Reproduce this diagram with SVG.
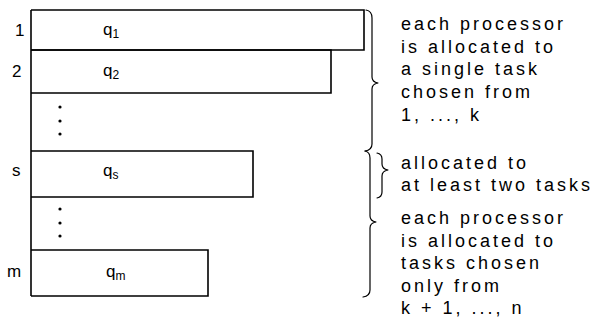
<svg xmlns="http://www.w3.org/2000/svg" width="598" height="323" viewBox="0 0 598 323">
  <style>
    .bar { fill: none; stroke: #000; stroke-width: 1.6; }
    .brace { fill: none; stroke: #000; stroke-width: 1.2; stroke-linecap: round; stroke-linejoin: round; }
    .idx { font-family: "Liberation Sans", "DejaVu Sans", sans-serif; font-size: 17px; fill: #000; }
    .q { font-family: "Liberation Sans", "DejaVu Sans", sans-serif; font-size: 17px; fill: #000; }
    .sub { font-size: 12px; }
    .note { font-family: "Liberation Sans", "DejaVu Sans", sans-serif; font-size: 18px; letter-spacing: 3px; fill: #000; }
    .dot { fill: #000; }
  </style>
  <rect width="598" height="323" fill="#fff"/>

  <!-- processors drawn as bars along a shared left edge -->
  <line class="bar" x1="31" y1="10" x2="31" y2="296"/>

  <g id="proc-1">
    <path class="bar" d="M31 10 H364 V50 H31" stroke-width="2"/>
    <text class="idx" x="15" y="36">1</text>
    <text class="q" x="103" y="35">q<tspan class="sub" dy="3">1</tspan></text>
  </g>

  <g id="proc-2">
    <path class="bar" d="M31 50 H331 V93 H31"/>
    <text class="idx" x="12" y="77">2</text>
    <text class="q" x="103" y="76">q<tspan class="sub" dy="3">2</tspan></text>
  </g>

  <g id="gap-1">
    <circle class="dot" cx="60" cy="107" r="1.6"/>
    <circle class="dot" cx="60" cy="121" r="1.6"/>
    <circle class="dot" cx="60" cy="134" r="1.6"/>
  </g>

  <g id="proc-s">
    <path class="bar" d="M31 151 H253 V197 H31"/>
    <text class="idx" x="12" y="176">s</text>
    <text class="q" x="103" y="176">q<tspan class="sub" dy="3">s</tspan></text>
  </g>

  <g id="gap-2">
    <circle class="dot" cx="60" cy="209" r="1.6"/>
    <circle class="dot" cx="60" cy="223" r="1.6"/>
    <circle class="dot" cx="60" cy="236" r="1.6"/>
  </g>

  <g id="proc-m">
    <path class="bar" d="M31 250 H208 V296 H31"/>
    <text class="idx" x="7" y="277">m</text>
    <text class="q" x="106" y="277">q<tspan class="sub" dy="3">m</tspan></text>
  </g>

  <!-- braces grouping the processors -->
  <g id="braces">
    <path class="brace" d="M366 10 Q372 11 372 18 V77 Q372 82 378 83 Q372 84 372 89 V144 Q372 150 365 151"/>
    <path class="brace" d="M365 151 Q370 152 370 158 V216 Q370 221 376 222 Q370 223 370 228 V290 Q370 296 363 297"/>
    <path class="brace" d="M377 153 Q382 154 382 159 V164 Q382 169 388 170 Q382 171 382 176 V192 Q382 197 377 198"/>
  </g>

  <g id="note-top">
    <text class="note" x="401" y="30">each processor</text>
    <text class="note" x="401" y="53">is allocated to</text>
    <text class="note" x="401" y="75">a single task</text>
    <text class="note" x="401" y="98">chosen from</text>
    <text class="note" x="401" y="121">1, ..., k</text>
  </g>

  <g id="note-middle">
    <text class="note" x="401" y="169">allocated to</text>
    <text class="note" x="401" y="191">at least two tasks</text>
  </g>

  <g id="note-bottom">
    <text class="note" x="401" y="224">each processor</text>
    <text class="note" x="401" y="247">is allocated to</text>
    <text class="note" x="401" y="269">tasks chosen</text>
    <text class="note" x="401" y="292">only from</text>
    <text class="note" x="401" y="314">k + 1, ..., n</text>
  </g>
</svg>
